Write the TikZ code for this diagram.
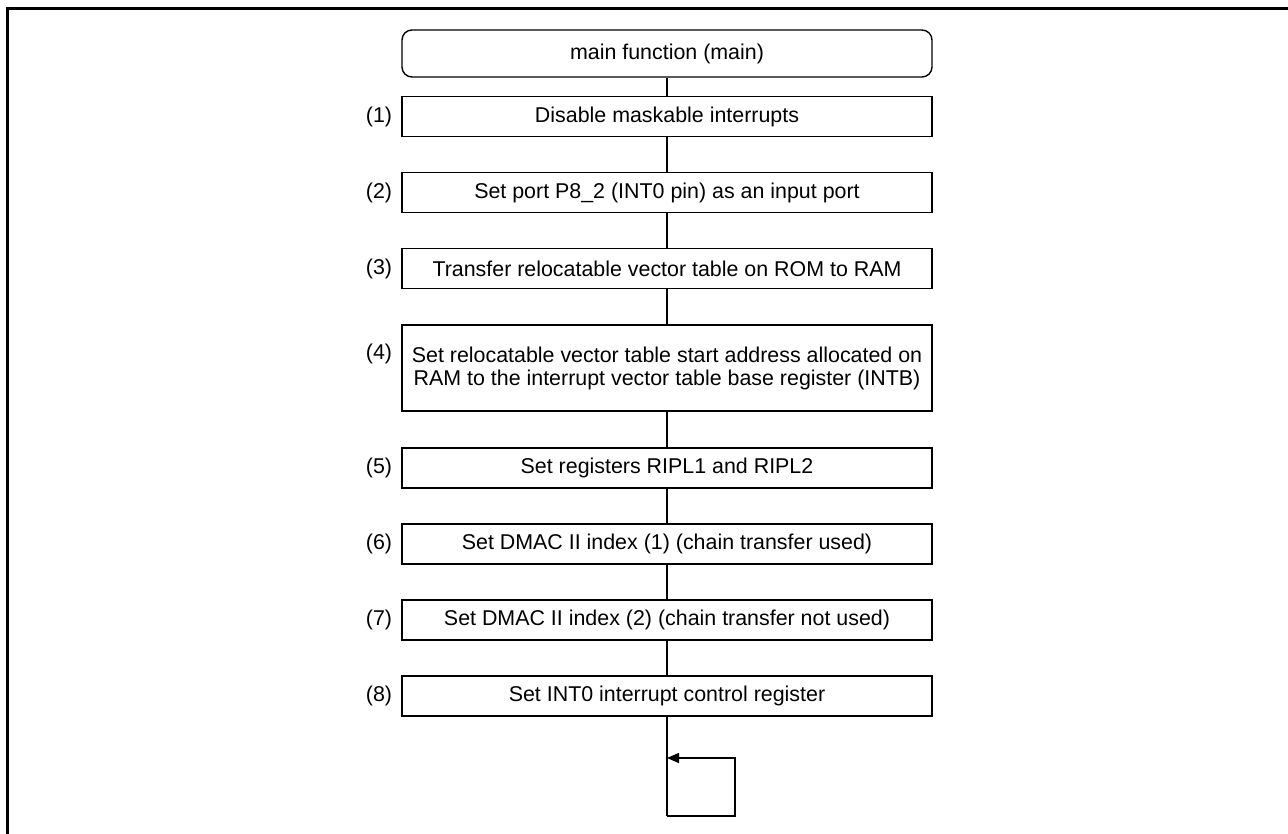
\documentclass[tikz,border=0pt]{standalone}
\usepackage{fontspec}
\setmainfont{Liberation Sans}
\usetikzlibrary{arrows.meta}
\begin{document}
\begin{tikzpicture}[x=1pt,y=-1pt,
  txt/.style={font=\fontsize{21.4}{23}\selectfont},
  stepbox/.style={draw, line width=1.4pt, minimum width=530pt, minimum height=40pt, inner sep=0pt, align=center, txt},
  term/.style={stepbox, rounded corners=10pt},
  lbl/.style={anchor=east, inner sep=0pt, txt},
  conn/.style={line width=1.4pt},
  frame/.style={line width=3pt}]
\useasboundingbox (0,0) rectangle (1288,834);
\fill[white] (0,0) rectangle (1288,834);
\draw[frame] (7.5,834) -- (7.5,8.5) -- (1288,8.5);

\node[term, minimum height=47pt] (t) at (667,53.5) {main function (main)};
\node[stepbox] (b1) at (667,116.5) {Disable maskable interrupts};
\node[stepbox] (b2) at (667,192.5) {Set port P8\_2 (INT0 pin) as an input port};
\node[stepbox] (b3) at (667,268.5) {Transfer relocatable vector table on ROM to RAM};
\node[stepbox, minimum height=86pt] (b4) at (667,368) {Set relocatable vector table start address allocated on\\RAM to the interrupt vector table base register (INTB)};
\node[stepbox] (b5) at (667,468) {Set registers RIPL1 and RIPL2};
\node[stepbox] (b6) at (667,544) {Set DMAC II index (1) (chain transfer used)};
\node[stepbox] (b7) at (667,620) {Set DMAC II index (2) (chain transfer not used)};
\node[stepbox] (b8) at (667,696) {Set INT0 interrupt control register};

\node[lbl] (l1) at ([xshift=-9pt]b1.west) {(1)};
\node[lbl] (l2) at ([xshift=-9pt]b2.west) {(2)};
\node[lbl] (l3) at ([xshift=-9pt]b3.west) {(3)};
\node[lbl] (l4) at ([xshift=-9pt,yshift=14pt]b4.west) {(4)};
\node[lbl] (l5) at ([xshift=-9pt]b5.west) {(5)};
\node[lbl] (l6) at ([xshift=-9pt]b6.west) {(6)};
\node[lbl] (l7) at ([xshift=-9pt]b7.west) {(7)};
\node[lbl] (l8) at ([xshift=-9pt]b8.west) {(8)};

\draw[conn] (t) -- (b1);
\draw[conn] (b1) -- (b2);
\draw[conn] (b2) -- (b3);
\draw[conn] (b3) -- (b4);
\draw[conn] (b4) -- (b5);
\draw[conn] (b5) -- (b6);
\draw[conn] (b6) -- (b7);
\draw[conn] (b7) -- (b8);

\coordinate (lb) at (667,816);
\coordinate (lr) at (735,758);
\coordinate (la) at (667,758);
\draw[conn] (b8.south) -- (lb);
\draw[conn, -{Triangle[length=12pt,width=10pt]}] (lb) -| (lr) -- (la);
\end{tikzpicture}
\end{document}
